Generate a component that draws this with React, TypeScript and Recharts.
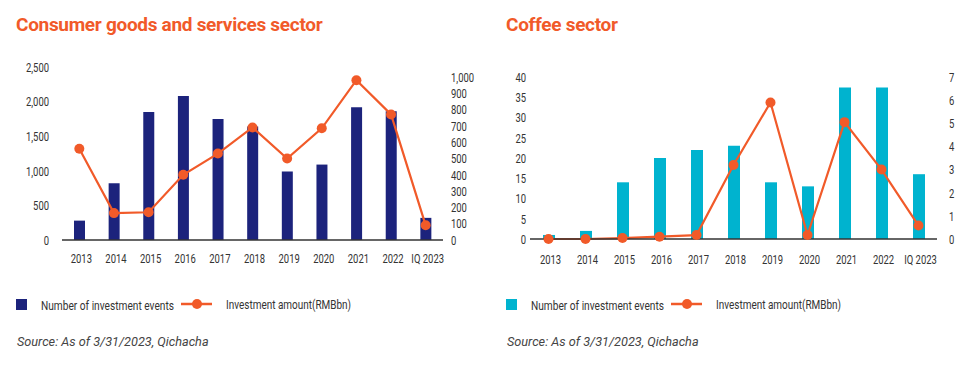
import { ComposedChart, Bar, Line, XAxis, YAxis } from 'recharts'

const YEARS = ['2013', '2014', '2015', '2016', '2017', '2018', '2019', '2020', '2021', '2022', 'IQ 2023']

// consumer goods and services sector
const CONSUMER_EVENTS = [280, 820, 1850, 2080, 1750, 1640, 990, 1090, 1920, 1860, 320]
const CONSUMER_AMOUNT = [560, 165, 170, 400, 530, 690, 500, 685, 980, 770, 90]
const CONSUMER_LEFT_TICKS = [0, 500, 1000, 1500, 2000, 2500]
const CONSUMER_RIGHT_TICKS = [0, 100, 200, 300, 400, 500, 600, 700, 800, 900, 1000]

// coffee sector
const COFFEE_EVENTS = [1, 2, 14, 20, 22, 23, 14, 13, 37.4, 37.4, 16]
const COFFEE_AMOUNT = [0, 0, 0.04, 0.1, 0.17, 3.2, 5.9, 0.17, 5.05, 3.0, 0.58]
const COFFEE_LEFT_TICKS = [0, 5, 10, 15, 20, 25, 30, 35, 40]
const COFFEE_RIGHT_TICKS = [0, 1, 2, 3, 4, 5, 6, 7]

const NAVY = '#1c237c'
const CYAN = '#00b3cf'
const ORANGE = '#f15a29'
const TEXT = '#333'
const FONT = 'Roboto, sans-serif'
const SQUEEZE = 0.7

const fmt = (v: number) => v.toLocaleString('en-US')

// condensed-looking tick: regular Roboto squeezed horizontally
function NarrowTick(props: any) {
  const { x, y, payload, textAnchor, tickFormatter, dx = 0, dy = '0.355em' } = props
  const label = tickFormatter ? tickFormatter(payload.value) : payload.value
  return (
    <g transform={`translate(${x + dx},${y}) scale(${SQUEEZE},1)`}>
      <text x={0} y={0} dy={dy} textAnchor={textAnchor} fontSize={13.5} fill={TEXT} fontFamily={FONT}>
        {label}
      </text>
    </g>
  )
}

interface PanelProps {
  left: number
  title: string
  events: number[]
  amount: number[]
  barColor: string
  leftTicks: number[]
  rightTicks: number[]
  leftMax: number
  rightMax: number
  plotTop: number
  plotBottom: number
  leftW: number
  rightW: number
  leftGap: number
  rightGap: number
  xGap: number
  xShift: number
  barSize: number
}

function Panel(p: PanelProps) {
  const data = YEARS.map((y, i) => ({ year: y, events: p.events[i], amount: p.amount[i] }))
  const height = 280
  return (
    <div style={{ position: 'absolute', left: p.left, top: 0, width: 490, height: 367 }}>
      <div style={{ position: 'absolute', left: 16, top: 13, fontFamily: FONT, fontWeight: 700, fontSize: 19, color: ORANGE, whiteSpace: 'nowrap', letterSpacing: -0.3 }}>
        {p.title}
      </div>
      <ComposedChart
        width={490}
        height={height}
        data={data}
        margin={{ top: p.plotTop, right: 0, left: 0, bottom: height - p.plotBottom - 30 }}
      >
        <XAxis
          dataKey="year"
          interval={0}
          height={30}
          tickSize={0}
          tickMargin={p.xGap}
          tick={<NarrowTick dx={p.xShift} dy="0.71em" />}
          axisLine={{ stroke: '#333', strokeWidth: 1.5 }}
          tickLine={false}
        />
        <YAxis
          yAxisId="l"
          width={p.leftW}
          domain={[0, p.leftMax]}
          ticks={p.leftTicks}
          interval={0}
          tickFormatter={fmt}
          tickSize={0}
          tickMargin={p.leftGap}
          tick={<NarrowTick />}
          axisLine={false}
          tickLine={false}
        />
        <YAxis
          yAxisId="r"
          orientation="right"
          width={p.rightW}
          domain={[0, p.rightMax]}
          ticks={p.rightTicks}
          interval={0}
          tickFormatter={fmt}
          tickSize={0}
          tickMargin={p.rightGap}
          tick={<NarrowTick />}
          axisLine={false}
          tickLine={false}
        />
        <Bar yAxisId="l" dataKey="events" fill={p.barColor} barSize={p.barSize} isAnimationActive={false} />
        <Line
          yAxisId="r"
          dataKey="amount"
          type="linear"
          stroke={ORANGE}
          strokeWidth={2.2}
          dot={{ r: 5, fill: ORANGE, stroke: ORANGE, strokeWidth: 0 }}
          isAnimationActive={false}
        />
      </ComposedChart>

      {/* legend */}
      <svg style={{ position: 'absolute', left: 0, top: 294 }} width={490} height={22}>
        <rect x={16} y={5} width={11} height={11} fill={p.barColor} />
        <text x={41} y={15.5} fontFamily={FONT} fontSize={13.5} fill={TEXT} textLength={133} lengthAdjust="spacingAndGlyphs">
          Number of investment events
        </text>
        <line x1={181} x2={212} y1={10} y2={10} stroke={ORANGE} strokeWidth={2.5} />
        <circle cx={197} cy={10} r={5} fill={ORANGE} />
        <text x={226} y={15} fontFamily={FONT} fontSize={13.5} fill={TEXT} textLength={125} lengthAdjust="spacingAndGlyphs">
          Investment amount(RMBbn)
        </text>
      </svg>

      <div style={{ position: 'absolute', left: 17, top: 334, fontFamily: FONT, fontStyle: 'italic', fontSize: 12.7, color: '#444', whiteSpace: 'nowrap' }}>
        Source: As of 3/31/2023, Qichacha
      </div>
    </div>
  )
}

export default function App() {
  return (
    <div style={{ position: 'relative', width: 980, height: 367, margin: -8, background: '#fff', overflow: 'hidden' }}>
      <Panel
        left={0}
        title="Consumer goods and services sector"
        events={CONSUMER_EVENTS}
        amount={CONSUMER_AMOUNT}
        barColor={NAVY}
        leftTicks={CONSUMER_LEFT_TICKS}
        rightTicks={CONSUMER_RIGHT_TICKS}
        leftMax={2500}
        rightMax={1061}
        plotTop={67}
        plotBottom={240}
        leftW={62}
        rightW={47}
        leftGap={13}
        rightGap={8}
        xGap={13}
        xShift={2}
        barSize={11}
      />
      <Panel
        left={490}
        title="Coffee sector"
        events={COFFEE_EVENTS}
        amount={COFFEE_AMOUNT}
        barColor={CYAN}
        leftTicks={COFFEE_LEFT_TICKS}
        rightTicks={COFFEE_RIGHT_TICKS}
        leftMax={40}
        rightMax={7}
        plotTop={77}
        plotBottom={239}
        leftW={40}
        rightW={43}
        leftGap={4}
        rightGap={12}
        xGap={15}
        xShift={2}
        barSize={12}
      />
    </div>
  )
}
